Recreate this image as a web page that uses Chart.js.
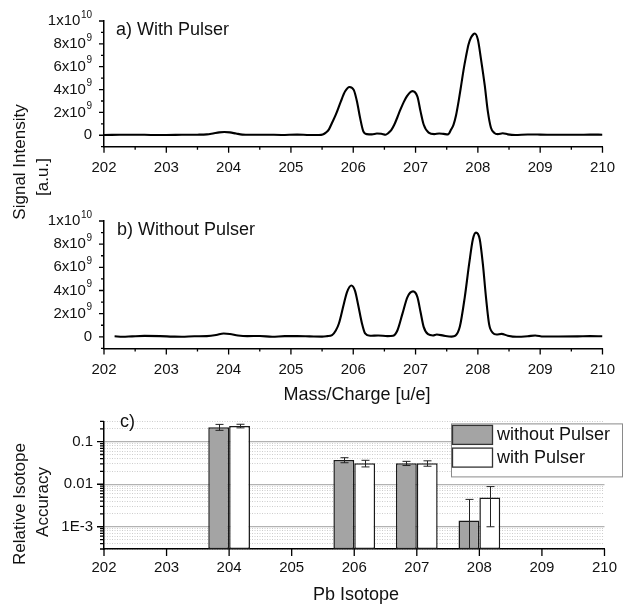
<!DOCTYPE html>
<html>
<head>
<meta charset="utf-8">
<script src="https://cdn.jsdelivr.net/npm/chart.js@4.4.1/dist/chart.umd.min.js"></script>
<style>
  html, body { margin: 0; padding: 0; background: #fff; }
  #wrap { position: relative; width: 627px; height: 604px; overflow: hidden;
          font-family: "Liberation Sans", Arial, Helvetica, sans-serif; color: #111; }
  #wrap canvas { position: absolute; left: 0; }
  .lbl { position: absolute; white-space: nowrap; line-height: 1; font-size: 18px; }
  .ctr { transform: translate(-50%, -50%); }
  .lft { transform: translate(0, -50%); }
  .rot { transform: translate(-50%, -50%) rotate(-90deg); font-size: 17px; }
</style>
</head>
<body>
<div id="wrap">
  <canvas id="specWith" width="627" height="185" style="top:0px"></canvas>
  <canvas id="specWithout" width="627" height="185" style="top:200px"></canvas>
  <canvas id="accuracy" width="627" height="204" style="top:400px"></canvas>

  <div class="lbl lft" style="left:116px; top:29px">a) With Pulser</div>
  <div class="lbl lft" style="left:117px; top:229px">b) Without Pulser</div>
  <div class="lbl lft" style="left:120px; top:421px">c)</div>

  <div class="lbl rot" style="left:19px; top:162px">Signal Intensity</div>
  <div class="lbl rot" style="left:42px; top:177px">[a.u.]</div>
  <div class="lbl ctr" style="left:357px; top:394px">Mass/Charge [u/e]</div>

  <div class="lbl rot" style="left:19px; top:504px">Relative Isotope</div>
  <div class="lbl rot" style="left:42px; top:502px">Accuracy</div>
  <div class="lbl ctr" style="left:356px; top:594px">Pb Isotope</div>
</div>

<script>
// ---------- mass spectra, intensity in units of 1e9 a.u. ----------
const GIGA = 1e9;

const massWithPulser = [
  202.00, 202.25, 202.50, 202.75, 203.00, 203.25, 203.50, 203.65, 203.75, 203.85,
  203.93, 204.02, 204.12, 204.22, 204.35, 204.60, 204.85, 205.10, 205.30, 205.45,
  205.51, 205.56, 205.61, 205.66, 205.72, 205.80, 205.87, 205.94, 206.01, 206.06,
  206.11, 206.16, 206.22, 206.30, 206.38, 206.45, 206.52, 206.56, 206.61, 206.66,
  206.71, 206.76, 206.81, 206.86, 206.91, 206.95, 207.03, 207.08, 207.13, 207.21,
  207.30, 207.38, 207.45, 207.52, 207.57, 207.61, 207.65, 207.69, 207.73, 207.77,
  207.81, 207.85, 207.89, 207.93, 207.95, 208.00, 208.05, 208.11, 208.16, 208.21,
  208.26, 208.32, 208.40, 208.48, 208.60, 208.80, 209.00, 209.30, 209.60, 209.80,
  210.00
];
const intensityWithPulser = [
  0.03, 0.04, 0.05, 0.03, 0.02, 0.04, 0.05, 0.08, 0.16, 0.25,
  0.28, 0.25, 0.15, 0.06, 0.04, 0.05, 0.03, 0.06, 0.03, 0.03,
  0.07, 0.23, 0.52, 1.10, 1.80, 2.95, 3.85, 4.23, 3.95, 2.95,
  1.52, 0.37, 0.10, 0.08, 0.15, 0.13, 0.05, 0.18, 0.45, 0.94,
  1.60, 2.28, 2.90, 3.40, 3.75, 3.86, 3.38, 2.09, 0.94, 0.23,
  0.10, 0.16, 0.12, 0.08, 0.50, 0.94, 1.75, 2.95, 4.30, 5.70,
  6.90, 7.95, 8.55, 8.85, 8.90, 8.38, 6.67, 4.38, 2.09, 0.66,
  0.23, 0.10, 0.18, 0.08, 0.02, 0.07, 0.06, 0.04, 0.04, 0.06,
  0.05
];

const massWithoutPulser = [
  202.17, 202.30, 202.45, 202.65, 202.90, 203.10, 203.25, 203.45, 203.65, 203.80,
  203.92, 204.02, 204.15, 204.30, 204.50, 204.70, 204.90, 205.10, 205.30, 205.50,
  205.58, 205.66, 205.72, 205.77, 205.85, 205.90, 205.97, 206.03, 206.08, 206.14,
  206.19, 206.27, 206.40, 206.55, 206.64, 206.71, 206.79, 206.87, 206.96, 207.03,
  207.08, 207.13, 207.20, 207.28, 207.34, 207.45, 207.58, 207.64, 207.71, 207.79,
  207.86, 207.92, 207.97, 208.03, 208.08, 208.13, 208.18, 208.24, 208.30, 208.38,
  208.48, 208.62, 208.80, 208.92, 209.05, 209.30, 209.60, 209.80, 210.00
];
const intensityWithoutPulser = [
  0.05, 0.00, 0.04, 0.08, 0.06, 0.02, 0.00, 0.05, 0.06, 0.15,
  0.29, 0.25, 0.12, 0.06, 0.07, 0.00, 0.06, 0.06, 0.04, 0.02,
  0.06, 0.15, 0.55, 1.15, 2.86, 3.86, 4.43, 3.94, 2.72, 1.15,
  0.29, 0.09, 0.12, 0.06, 0.10, 0.57, 2.00, 3.43, 3.92, 3.43,
  2.14, 0.86, 0.23, 0.12, 0.20, 0.10, 0.02, 0.10, 0.86, 3.43,
  6.29, 8.43, 9.00, 8.43, 6.29, 3.43, 1.10, 0.34, 0.20, 0.25,
  0.10, 0.00, 0.05, 0.12, 0.03, 0.03, 0.04, 0.06, 0.05
];

// ---------- relative isotope accuracy ----------
const isotopes = [204, 206, 207, 208];
const accuracyWithoutPulser = [0.22, 0.037, 0.031, 0.0014];
const errorWithoutPulser    = [0.035, 0.005, 0.0035, 0.003];
const accuracyWithPulser    = [0.234, 0.031, 0.031, 0.0049];
const errorWithPulser       = [0.023, 0.0055, 0.0045, 0.0039];

// ---------- axis ticks ----------
const massTicks = [202, 203, 204, 205, 206, 207, 208, 209, 210];
const intensityTickValues = [0, 2, 4, 6, 8, 10];            // x 1e9
const intensityTickMantissas = ['0', '2x10', '4x10', '6x10', '8x10', '1x10'];
const intensityTickExponents = ['', '9', '9', '9', '9', '10'];
const accuracyTickValues = [0.1, 0.01, 0.001];
const accuracyTickLabels = ['0.1', '0.01', '1E-3'];

const FONT = '"Liberation Sans", Arial, Helvetica, sans-serif';
Chart.defaults.font.family = FONT;
Chart.defaults.font.size = 15;
Chart.defaults.color = '#111';

// major / minor tick marks, drawn outward from the axis lines
const tickMarks = {
  id: 'tickMarks',
  afterDraw(chart, args, opts) {
    const { ctx } = chart;
    const xs = chart.scales.x, ys = chart.scales.y;
    ctx.save();
    ctx.strokeStyle = '#000';
    ctx.lineWidth = 1.3;
    ctx.beginPath();
    (opts.x || []).forEach(([v, len]) => {
      const px = xs.getPixelForValue(v);
      ctx.moveTo(px, xs.top);
      ctx.lineTo(px, xs.top + len);
    });
    (opts.y || []).forEach(([v, len]) => {
      const py = ys.getPixelForValue(v);
      ctx.moveTo(ys.right, py);
      ctx.lineTo(ys.right - len, py);
    });
    ctx.stroke();
    ctx.restore();
  }
};

// y tick labels of the form  a x 10^n  with a raised exponent
const powerLabels = {
  id: 'powerLabels',
  afterDraw(chart) {
    const { ctx } = chart;
    const ys = chart.scales.y;
    const right = ys.right - 12;
    ctx.save();
    ctx.fillStyle = '#111';
    ctx.textBaseline = 'middle';
    ctx.textAlign = 'left';
    intensityTickValues.forEach((v, i) => {
      const py = ys.getPixelForValue(v * GIGA);
      const mant = intensityTickMantissas[i], expo = intensityTickExponents[i];
      ctx.font = '10px ' + FONT;
      const ew = expo ? ctx.measureText(expo).width + 0.5 : 0;
      ctx.font = '15px ' + FONT;
      const mw = ctx.measureText(mant).width;
      ctx.fillText(mant, right - ew - mw, py);
      if (expo) {
        ctx.font = '10px ' + FONT;
        ctx.fillText(expo, right - ew + 0.5, py - 6);
      }
    });
    ctx.restore();
  }
};

const massMarks = [];
for (let m = 202; m <= 210.001; m += 0.5) {
  massMarks.push([m, Number.isInteger(m) ? 6 : 3]);
}
const intensityMarks = [];
for (let g = -1; g <= 10; g++) {
  intensityMarks.push([g * GIGA, g % 2 === 0 ? 5 : 3]);
}

function spectrumChart(id, mass, intensity, topPad, canvasH, axisY) {
  const points = mass.map((m, i) => ({ x: m, y: intensity[i] * GIGA }));
  return new Chart(document.getElementById(id), {
    type: 'line',
    data: {
      datasets: [{
        data: points,
        borderColor: '#000',
        borderWidth: 2.1,
        pointRadius: 0,
        fill: false,
        cubicInterpolationMode: 'monotone'
      }]
    },
    options: {
      responsive: false,
      animation: false,
      events: [],
      layout: { padding: { top: topPad, right: 15, left: 0, bottom: 0 } },
      plugins: {
        legend: { display: false },
        tooltip: { enabled: false },
        tickMarks: { x: massMarks, y: intensityMarks }
      },
      scales: {
        x: {
          type: 'linear', min: 202, max: 210,
          grid: { display: false, drawTicks: false },
          border: { display: true, color: '#000', width: 1.5 },
          ticks: { autoSkip: false, maxRotation: 0, padding: 12, color: '#111' },
          afterBuildTicks: s => { s.ticks = massTicks.map(v => ({ value: v })); },
          afterFit: s => { s.height = canvasH - axisY; }
        },
        y: {
          type: 'linear', min: -GIGA, max: 10 * GIGA,
          grid: { display: false, drawTicks: false },
          border: { display: true, color: '#000', width: 1.5 },
          ticks: { autoSkip: false, padding: 12, callback: () => '' },
          afterBuildTicks: s => { s.ticks = intensityTickValues.map(v => ({ value: v * GIGA })); },
          afterFit: s => { s.width = 104; }
        }
      }
    },
    plugins: [tickMarks, powerLabels]
  });
}

spectrumChart('specWith', massWithPulser, intensityWithPulser, 19.5, 185, 146.7);
spectrumChart('specWithout', massWithoutPulser, intensityWithoutPulser, 20, 185, 148.4);

// ---------- panel c ----------
const isDecade = v => Math.abs(Math.log10(v) - Math.round(Math.log10(v))) < 1e-6;
const accuracyGrid = [];
for (let d = -4; d <= -1; d++) {
  for (let m = 1; m <= 9; m++) {
    const v = parseFloat((m * Math.pow(10, d)).toPrecision(3));
    if (v >= 3e-4 - 1e-12 && v <= 0.3 + 1e-12) accuracyGrid.push(v);
  }
}
const accuracyMarks = accuracyGrid.map(v => [v, isDecade(v) ? 7 : 4]);
const isotopeMarks = massTicks.map(v => [v, 7]);

const errorBars = {
  id: 'errorBars',
  afterDatasetsDraw(chart, args, opts) {
    const { ctx, chartArea } = chart;
    const ys = chart.scales.y;
    ctx.save();
    ctx.beginPath();
    ctx.rect(chartArea.left, chartArea.top, chartArea.width, chartArea.height);
    ctx.clip();
    ctx.strokeStyle = '#222';
    ctx.lineWidth = 1;
    opts.errors.forEach((errs, di) => {
      const meta = chart.getDatasetMeta(di);
      const values = chart.data.datasets[di].data;
      meta.data.forEach((bar, i) => {
        const v = values[i].y, e = errs[i];
        const yHi = ys.getPixelForValue(v + e);
        const lo = v - e;
        const yLo = lo > 0 ? ys.getPixelForValue(lo) : chartArea.bottom + 2;
        const x = Math.round(bar.x) + 0.5;
        ctx.beginPath();
        ctx.moveTo(x, yHi); ctx.lineTo(x, yLo);
        ctx.moveTo(x - 4, yHi); ctx.lineTo(x + 4, yHi);
        if (lo > 0) { ctx.moveTo(x - 4, yLo); ctx.lineTo(x + 4, yLo); }
        ctx.stroke();
      });
    });
    ctx.restore();
  }
};

const boxLegend = {
  id: 'boxLegend',
  afterDraw(chart) {
    const { ctx, chartArea } = chart;
    const left = chartArea.left + 347, top = chartArea.top + 2;
    const w = 172, h = 54;
    ctx.save();
    ctx.fillStyle = '#fff';
    ctx.fillRect(left, top, w, h);
    ctx.strokeStyle = '#8a8a8a';
    ctx.lineWidth = 1;
    ctx.strokeRect(left + 0.5, top + 0.5, w - 1, h - 1);
    ctx.font = '18px ' + FONT;
    ctx.textBaseline = 'middle';
    chart.data.datasets.forEach((ds, i) => {
      const sy = top + 2 + i * 22.7;
      ctx.fillStyle = ds.backgroundColor;
      ctx.fillRect(left + 1.5, sy, 40, 19);
      ctx.strokeStyle = '#333';
      ctx.lineWidth = 1.3;
      ctx.strokeRect(left + 1.5, sy, 40, 19);
      ctx.fillStyle = '#111';
      ctx.fillText(ds.label, left + 46, sy + 10);
    });
    ctx.restore();
  }
};

new Chart(document.getElementById('accuracy'), {
  type: 'bar',
  data: {
    datasets: [
      {
        label: 'without Pulser',
        data: isotopes.map((x, i) => ({ x, y: accuracyWithoutPulser[i] })),
        backgroundColor: '#a4a4a4',
        borderColor: '#1a1a1a',
        borderWidth: 1.5,
        borderSkipped: false,
        categoryPercentage: 2 / 3,
        barPercentage: 1
      },
      {
        label: 'with Pulser',
        data: isotopes.map((x, i) => ({ x, y: accuracyWithPulser[i] })),
        backgroundColor: '#ffffff',
        borderColor: '#1a1a1a',
        borderWidth: 1.5,
        borderSkipped: false,
        categoryPercentage: 2 / 3,
        barPercentage: 1
      }
    ]
  },
  options: {
    responsive: false,
    animation: false,
    events: [],
    layout: { padding: { top: 21.4, right: 15, left: 0, bottom: 0 } },
    plugins: {
      legend: { display: false },
      tooltip: { enabled: false },
      tickMarks: { x: isotopeMarks, y: accuracyMarks },
      errorBars: { errors: [errorWithoutPulser, errorWithPulser] }
    },
    scales: {
      x: {
        type: 'linear', min: 202, max: 210, offset: false,
        grid: { display: false, drawTicks: false, offset: false },
        border: { display: true, color: '#000', width: 1.5 },
        ticks: { autoSkip: false, maxRotation: 0, padding: 10, color: '#111' },
        afterBuildTicks: s => { s.ticks = massTicks.map(v => ({ value: v })); },
        afterFit: s => { s.height = 204 - 149; }
      },
      y: {
        type: 'logarithmic', min: 3e-4, max: 0.3,
        grid: {
          drawTicks: false,
          color: c => (c.tick && isDecade(c.tick.value)) ? '#b2b2b2' : '#cdcdcd',
          lineWidth: c => (c.tick && isDecade(c.tick.value)) ? 1.3 : 1
        },
        border: {
          display: true, color: '#000', width: 1.5,
          dash: c => (c.tick && !isDecade(c.tick.value)) ? [1, 1.5] : []
        },
        ticks: {
          autoSkip: false, padding: 11, color: '#111',
          callback: v => {
            const k = accuracyTickValues.findIndex(t => Math.abs(Math.log10(t) - Math.log10(v)) < 1e-6);
            return k >= 0 ? accuracyTickLabels[k] : '';
          }
        },
        afterBuildTicks: s => { s.ticks = accuracyGrid.map(v => ({ value: v })); },
        afterFit: s => { s.width = 104; }
      }
    }
  },
  plugins: [tickMarks, errorBars, boxLegend]
});
</script>
</body>
</html>
